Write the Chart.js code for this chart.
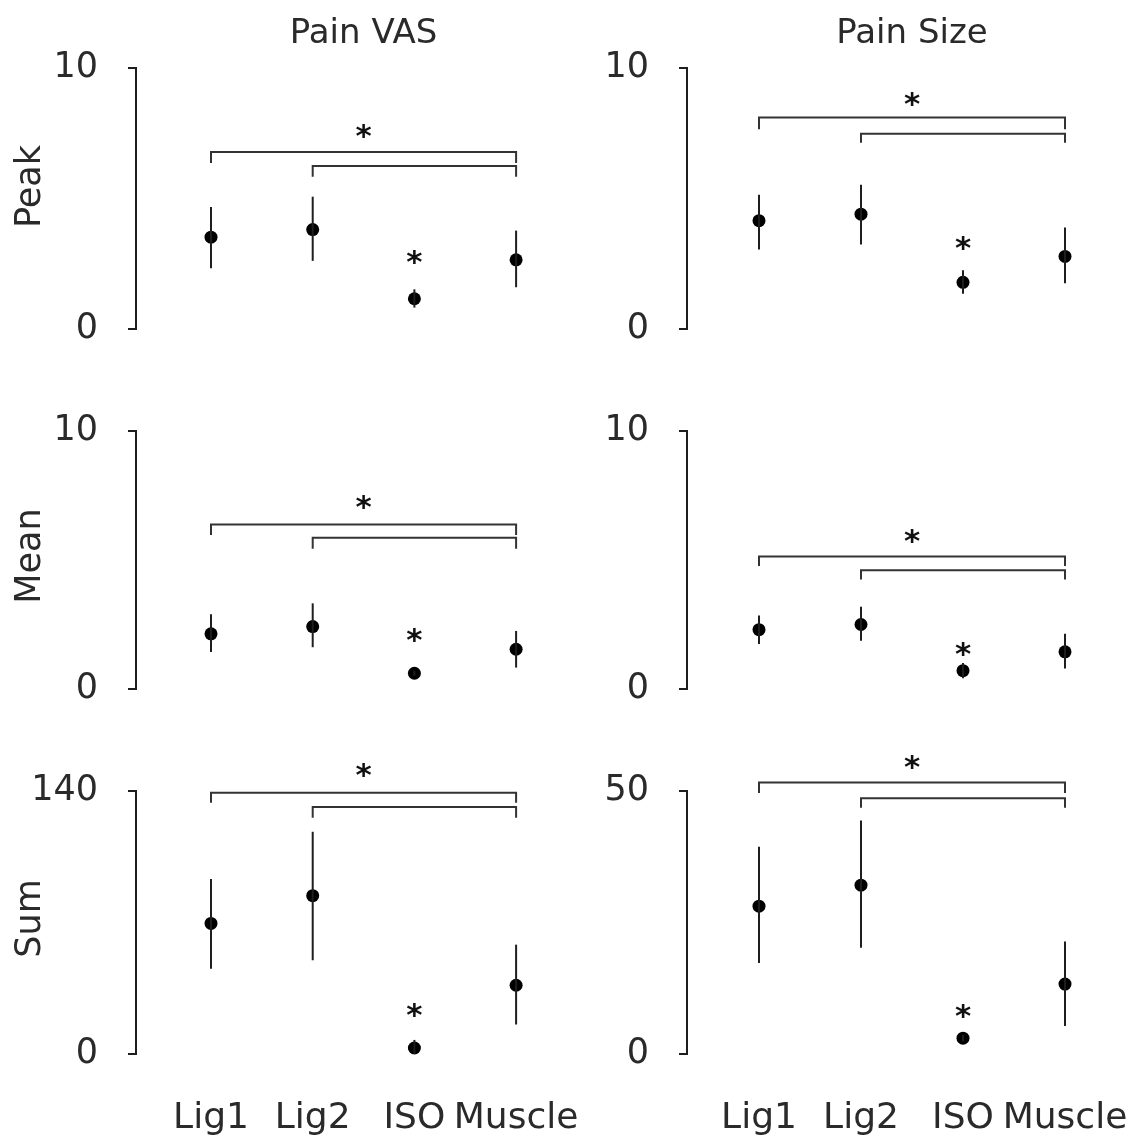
<!DOCTYPE html>
<html><head><meta charset="utf-8">
<script src="https://cdn.jsdelivr.net/npm/chart.js@4/dist/chart.umd.min.js"></script>
<style>
html,body{margin:0;padding:0;background:#fff;}
#wrap{position:relative;width:1134px;height:1137px;overflow:hidden;}
canvas{position:absolute;}
</style></head><body><div id="wrap"></div>
<script>
// ---------- data ----------
const categories = ['Lig1', 'Lig2', 'ISO', 'Muscle'];
const columnTitles = ['Pain VAS', 'Pain Size'];
const rowLabels = ['Peak', 'Mean', 'Sum'];
const axisMaxVAS = [10, 10, 140];
const axisMaxSize = [10, 10, 50];
const bracketSpans = [[0, 3], [1, 3]];   // category index pairs

const peakVAS      = [3.52, 3.81, 1.16, 2.65];
const peakVASHigh  = [4.67, 5.07, 1.52, 3.77];
const peakVASLow   = [2.33, 2.61, 0.82, 1.60];
const peakVASBracket    = [6.78, 6.25];
const peakVASBracketEnd = [6.36, 5.83];
const peakVASStars      = [7.73, 2.90];

const peakSize      = [4.15, 4.40, 1.79, 2.78];
const peakSizeHigh  = [5.14, 5.53, 2.25, 3.89];
const peakSizeLow   = [3.05, 3.24, 1.35, 1.75];
const peakSizeBracket    = [8.10, 7.48];
const peakSizeBracketEnd = [7.65, 7.14];
const peakSizeStars      = [8.98, 3.43];

const meanVAS      = [2.14, 2.42, 0.61, 1.54];
const meanVASHigh  = [2.90, 3.32, 0.70, 2.25];
const meanVASLow   = [1.43, 1.62, 0.52, 0.83];
const meanVASBracket    = [6.38, 5.86];
const meanVASBracketEnd = [5.97, 5.44];
const meanVASStars      = [7.39, 2.25];

const meanSize      = [2.30, 2.50, 0.71, 1.44];
const meanSizeHigh  = [2.85, 3.19, 1.01, 2.14];
const meanSizeLow   = [1.74, 1.87, 0.42, 0.79];
const meanSizeBracket    = [5.14, 4.60];
const meanSizeBracketEnd = [4.77, 4.24];
const meanSizeStars      = [6.09, 1.72];

const sumVAS      = [69.5, 84.3, 3.2, 36.6];
const sumVASHigh  = [93.2, 118.3, 7.5, 58.2];
const sumVASLow   = [45.4, 49.9, 0.0, 15.7];
const sumVASBracket    = [139.1, 131.5];
const sumVASBracketEnd = [133.8, 125.8];
const sumVASStars      = [153.2, 25.6];

const sumSize      = [28.1, 32.1, 3.0, 13.3];
const sumSizeHigh  = [39.4, 44.4, 3.6, 21.4];
const sumSizeLow   = [17.3, 20.2, 2.4, 5.3];
const sumSizeBracket    = [51.6, 48.6];
const sumSizeBracketEnd = [49.6, 46.8];
const sumSizeStars      = [56.2, 9.0];

// ---------- layout / style ----------
const FONT = "'DejaVu Sans', 'Noto Sans', sans-serif";
const TEXT = '#2a2a2a';
const LINE = '#1e1e1e';
const cols = [
  {x: 0,   w: 640, axis: 136, first: 75, step: 101.7, areaRight: 567},
  {x: 567, w: 567, axis: 120, first: 72, step: 102,   areaRight: 549}
];
const rows = [
  {y: 0,   h: 380, top: 68,  bottom: 332},
  {y: 380, h: 360, top: 428, bottom: 692},
  {y: 740, h: 397, top: 790, bottom: 1054}
];

const panels = [
  {row:0, col:0, max:axisMaxVAS[0],  m:peakVAS,  hi:peakVASHigh,  lo:peakVASLow,  br:peakVASBracket,  be:peakVASBracketEnd,  st:peakVASStars},
  {row:0, col:1, max:axisMaxSize[0], m:peakSize, hi:peakSizeHigh, lo:peakSizeLow, br:peakSizeBracket, be:peakSizeBracketEnd, st:peakSizeStars},
  {row:1, col:0, max:axisMaxVAS[1],  m:meanVAS,  hi:meanVASHigh,  lo:meanVASLow,  br:meanVASBracket,  be:meanVASBracketEnd,  st:meanVASStars},
  {row:1, col:1, max:axisMaxSize[1], m:meanSize, hi:meanSizeHigh, lo:meanSizeLow, br:meanSizeBracket, be:meanSizeBracketEnd, st:meanSizeStars},
  {row:2, col:0, max:axisMaxVAS[2],  m:sumVAS,   hi:sumVASHigh,   lo:sumVASLow,   br:sumVASBracket,   be:sumVASBracketEnd,   st:sumVASStars},
  {row:2, col:1, max:axisMaxSize[2], m:sumSize,  hi:sumSizeHigh,  lo:sumSizeLow,  br:sumSizeBracket,  be:sumSizeBracketEnd,  st:sumSizeStars}
];

const textPlugin = {
  id: 'panelText',
  afterDatasetsDraw(chart, args, opts) {
    const p = opts.panel; if (!p) return;
    const {ctx, chartArea} = chart;
    const xs = chart.scales.x, ys = chart.scales.y;
    ctx.save();
    ctx.fillStyle = TEXT;
    ctx.textAlign = 'center';
    ctx.textBaseline = 'alphabetic';
    // asterisks
    ctx.fillStyle = '#111';
    ctx.font = `bold 31px ${FONT}`;
    const sx = [(bracketSpans[0][0] + bracketSpans[0][1]) / 2 + 1, 3];
    p.st.forEach((v, k) => {
      ctx.fillText('*', xs.getPixelForValue(sx[k]), ys.getPixelForValue(v) + 19);
    });
    ctx.fillStyle = TEXT;
    // column titles
    if (p.row === 0) {
      ctx.font = `34px ${FONT}`;
      ctx.fillText(columnTitles[p.col], xs.getPixelForValue(2.5), 43);
    }
    // row labels
    if (p.col === 0) {
      ctx.font = `35px ${FONT}`;
      const cy = (chartArea.top + chartArea.bottom) / 2 - (p.row === 0 ? 12 : 4);
      ctx.save();
      ctx.translate(40, cy);
      ctx.rotate(-Math.PI / 2);
      ctx.fillText(rowLabels[p.row], 0, 0);
      ctx.restore();
    }
    // category labels
    if (p.row === 2) {
      ctx.font = `36px ${FONT}`;
      categories.forEach((c, i) => {
        ctx.fillText(c, xs.getPixelForValue(i + 1), 388);
      });
    }
    ctx.restore();
  }
};

const wrap = document.getElementById('wrap');
panels.forEach(p => {
  const C = cols[p.col], R = rows[p.row];
  const cv = document.createElement('canvas');
  cv.width = C.w; cv.height = R.h;
  cv.style.left = C.x + 'px'; cv.style.top = R.y + 'px';
  cv.style.width = C.w + 'px'; cv.style.height = R.h + 'px';
  wrap.appendChild(cv);

  const xmin = 1 - C.first / C.step;
  const xmax = xmin + (C.areaRight - C.axis) / C.step;
  const padRight = C.w - C.areaRight;

  const datasets = [];
  categories.forEach((c, i) => {
    datasets.push({
      data: [{x: i + 1, y: p.lo[i]}, {x: i + 1, y: p.hi[i]}],
      showLine: true, borderColor: LINE, borderWidth: 2, pointRadius: 0, clip: false
    });
  });
  bracketSpans.forEach(([a, z], k) => {
    datasets.push({
      data: [{x: a + 1, y: p.be[k]}, {x: a + 1, y: p.br[k]}, {x: z + 1, y: p.br[k]}, {x: z + 1, y: p.be[k]}],
      showLine: true, borderColor: '#333', borderWidth: 2, pointRadius: 0, clip: false,
      borderJoinStyle: 'miter', borderCapStyle: 'butt'
    });
  });
  datasets.push({
    data: p.m.map((v, i) => ({x: i + 1, y: v})),
    pointRadius: 6.5, pointBackgroundColor: '#000', pointBorderWidth: 0, clip: false
  });

  new Chart(cv, {
    type: 'scatter',
    data: {datasets},
    options: {
      responsive: false,
      animation: false,
      devicePixelRatio: 1,
      layout: {padding: {left: 0, right: padRight, top: R.top - R.y, bottom: R.y + R.h - R.bottom}},
      plugins: {legend: {display: false}, tooltip: {enabled: false}, panelText: {panel: p}},
      scales: {
        x: {type: 'linear', min: xmin, max: xmax, display: false},
        y: {
          type: 'linear', min: 0, max: p.max,
          afterFit: s => { s.width = C.axis; },
          ticks: {stepSize: p.max, color: TEXT, padding: 30, font: {family: FONT, size: 35}},
          grid: {display: true, drawOnChartArea: false, drawTicks: true, tickLength: 8, color: LINE, lineWidth: 2},
          border: {display: true, color: LINE, width: 2}
        }
      }
    },
    plugins: [textPlugin]
  });
});
</script>
</body></html>
